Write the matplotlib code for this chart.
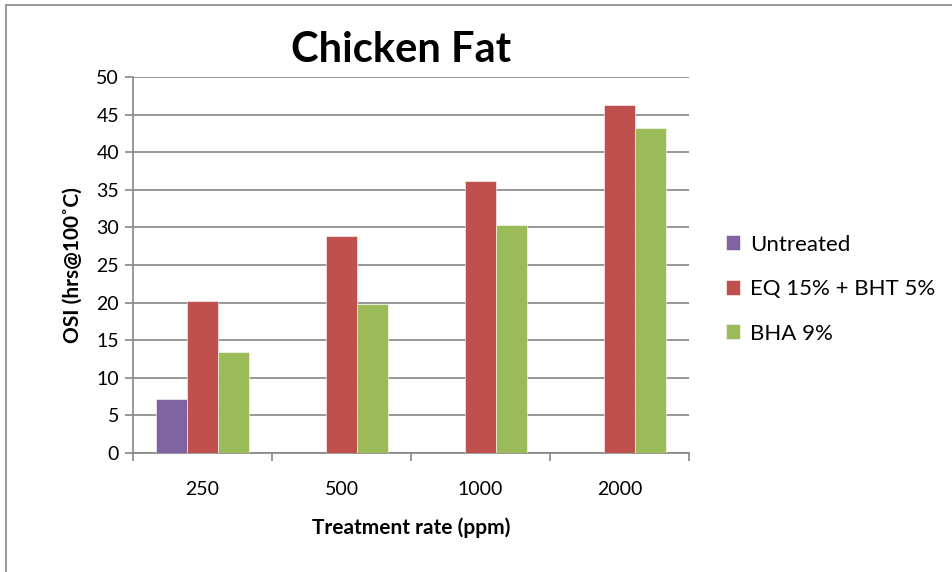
import numpy as np
import matplotlib
matplotlib.use("Agg")
import matplotlib.pyplot as plt
from matplotlib.patches import Rectangle

# data
categories = ["250", "500", "1000", "2000"]
series_names = ["Untreated", "EQ 15% + BHT 5%", "BHA 9%"]
untreated = [7.2, 0, 0, 0]
eq_bht = [20.2, 28.8, 36.2, 46.3]
bha = [13.4, 19.8, 30.3, 43.2]
colors = ["#8064A2", "#C0504D", "#9BBB59"]

plt.rcParams['font.family'] = ['Lato', 'DejaVu Sans']

fig = plt.figure(figsize=(9.52, 5.72), dpi=100)
ax = fig.add_axes([133 / 952, 1 - 453 / 572, (689 - 133) / 952, (453 - 77) / 572])

# outer chart border
fig.patches.append(Rectangle((6 / 952, -0.1), 1.2, 1 - 5 / 572 + 0.1,
                             transform=fig.transFigure, fill=False,
                             edgecolor="#868686", linewidth=1.2))

x = np.arange(len(categories))
w = 1 / 4.5
for i, (vals, name) in enumerate(zip([untreated, eq_bht, bha], series_names)):
    ax.bar(x + (i - 1) * w, vals, width=w, color=colors[i], label=name,
           edgecolor="white", linewidth=0.4, zorder=3)

ax.set_xlim(-0.5, len(categories) - 0.5)
ax.set_ylim(0, 50)
ax.set_yticks(range(0, 51, 5))
ax.yaxis.grid(True, color="#868686", linewidth=1.2, zorder=0)
ax.set_xticks(x)
ax.set_xticklabels(categories, fontsize=14)
ax.set_xticks(np.arange(-0.5, len(categories)), minor=True)
ax.tick_params(axis="x", which="major", length=0, pad=20)
ax.tick_params(axis="x", which="minor", length=6, color="#868686", width=1.2)
ax.tick_params(axis="y", length=6, color="#868686", width=1.2, labelsize=14, pad=4)

for s in ["top", "right"]:
    ax.spines[s].set_visible(False)
for s in ["left", "bottom"]:
    ax.spines[s].set_color("#868686")
    ax.spines[s].set_linewidth(1.2)

ax.set_xlabel("Treatment rate (ppm)", fontsize=15, fontweight="bold", labelpad=14)
ax.set_ylabel("OSI (hrs@100\u02daC)", fontsize=15, fontweight="bold", labelpad=10)
fig.text(401 / 952, 1 - 50 / 572, "Chicken Fat", fontsize=30, fontweight="bold",
         ha="center", va="center")

ax.legend(loc="center left", bbox_to_anchor=(1.03, 0.436), frameon=False,
          fontsize=16, handlelength=0.65, handleheight=0.65, handletextpad=0.45,
          labelspacing=1.1)

fig.savefig("out.png", dpi=100)
